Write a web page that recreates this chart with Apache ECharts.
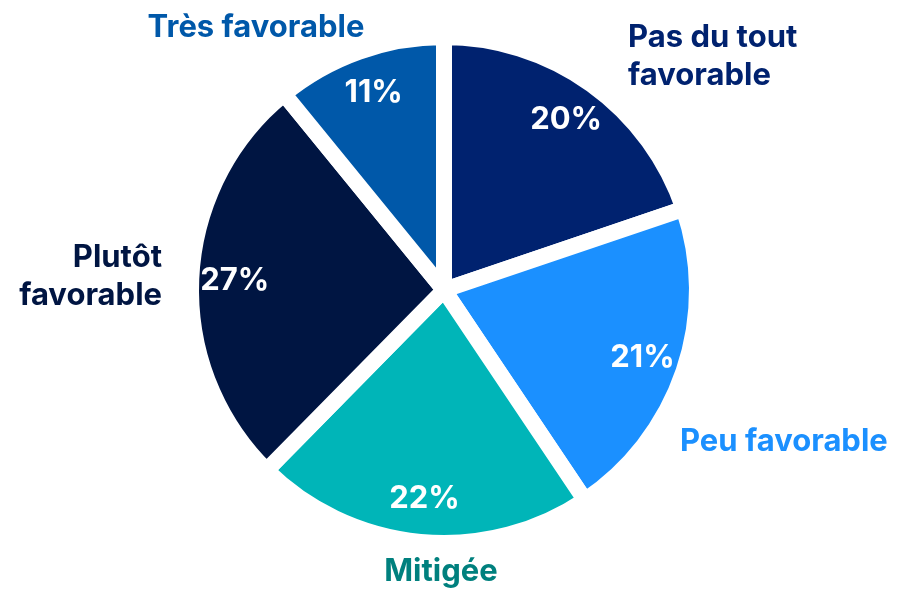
<!DOCTYPE html>
<html><head><meta charset="utf-8">
<script src="https://cdn.jsdelivr.net/npm/echarts@6/dist/echarts.min.js"></script>
<style>html,body{margin:0;padding:0;background:#fff}#c{width:897px;height:589px}</style>
</head><body><div id="c"></div>
<script>
const categories = ['Pas du tout favorable', 'Peu favorable', 'Mitigée', 'Plutôt favorable', 'Très favorable'];
const labelTexts = ['Pas du tout\nfavorable', 'Peu favorable', 'Mitigée', 'Plutôt\nfavorable', 'Très favorable'];
const values = [20, 21, 22, 27, 11];

const sliceColors = ['#00226f', '#1b90ff', '#00b5b8', '#001542', '#0058a9'];
const labelColors = ['#00226f', '#1b90ff', '#00807e', '#001542', '#0058a9'];
const FONT = 'Inter';

const chart = echarts.init(document.getElementById('c'), null, {renderer: 'canvas'});

const outerPlacement = [
  {x: 628, y: 57, align: 'left'},
  {x: 680, y: 442, align: 'left'},
  {x: 441, y: 572, align: 'center'},
  {x: 162, y: 277, align: 'right'},
  {x: 256, y: 28, align: 'center'}
];

chart.setOption({
  animation: false,
  backgroundColor: '#ffffff',
  series: [
    {
      type: 'pie',
      center: [444, 290],
      radius: 253,
      startAngle: 90,
      clockwise: true,
      silent: true,
      itemStyle: {borderColor: '#ffffff', borderWidth: 16},
      label: {
        show: true,
        position: 'outside',
        fontFamily: FONT,
        fontWeight: 'bold',
        fontSize: 31,
        lineHeight: 38,
        overflow: 'none'
      },
      labelLine: {show: false},
      labelLayout: function (p) {
        const o = outerPlacement[p.dataIndex];
        return {x: o.x, y: o.y, align: o.align, verticalAlign: 'middle'};
      },
      data: categories.map((c, i) => ({
        name: c,
        value: values[i],
        itemStyle: {color: sliceColors[i]},
        label: {formatter: labelTexts[i], color: labelColors[i]}
      }))
    },
    {
      type: 'pie',
      center: [444, 290],
      radius: [168, 245],
      startAngle: 90,
      clockwise: true,
      silent: true,
      itemStyle: {color: 'rgba(0,0,0,0)'},
      label: {
        show: true,
        position: 'inside',
        formatter: '{c}%',
        color: '#ffffff',
        fontFamily: FONT,
        fontWeight: 'bold',
        fontSize: 31,
        overflow: 'none'
      },
      labelLine: {show: false},
      data: categories.map((c, i) => ({name: c, value: values[i]}))
    }
  ]
});
</script>
</body></html>
